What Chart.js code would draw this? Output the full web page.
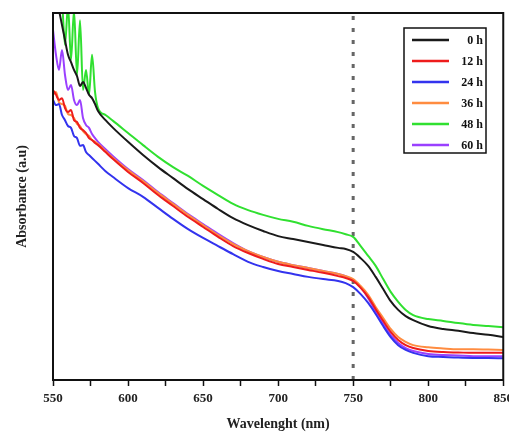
<!DOCTYPE html>
<html>
<head>
<meta charset="utf-8">
<script src="https://cdn.jsdelivr.net/npm/chart.js@4/dist/chart.umd.min.js"></script>
<style>
  html, body { margin: 0; padding: 0; background: #fff; overflow: hidden; }
  #wrap { width: 518px; height: 433px; position: relative; }
</style>
</head>
<body>
<div id="wrap"><canvas id="uvChart"></canvas></div>
<script>
// Longitudes de onda (nm)
const wavelengths = [550, 552, 554, 556, 558, 560, 562, 564, 566, 568, 570, 572, 574, 576, 578, 580, 585, 590,
  600, 610, 620, 630, 640, 650, 660, 670, 680, 690, 700, 710, 720, 730, 740, 745, 750, 755, 760, 765, 770,
  775, 780, 785, 790, 800, 810, 820, 830, 840, 850];

// Absorbancia (u.a.)
const abs0h = [109, 105, 100.8, 96.7, 92.6, 88.6, 86.6, 84.5, 82.8, 80.1, 81.2, 79.6, 77.7, 76.8, 75.2, 73.3, 70.8, 68.7,
  64.9, 61.3, 58.0, 55.0, 52.0, 49.3, 46.6, 44.1, 42.2, 40.6, 39.2, 38.4, 37.6, 36.8, 36.0, 35.7, 34.9, 33.2, 31.1, 28.1, 24.8,
  21.5, 19.1, 17.4, 16.3, 14.7, 13.9, 13.4, 12.8, 12.3, 11.7];
const abs12h = [79.0, 77.7, 76.3, 76.8, 74.1, 73.0, 73.6, 70.8, 70.3, 68.7, 68.1, 67.3, 65.9, 65.4, 64.6, 64.0, 62.1, 60.2,
  56.7, 53.7, 50.4, 47.4, 44.4, 41.7, 39.0, 36.5, 34.6, 33.0, 31.6, 30.8, 30.0, 29.2, 28.3, 27.8, 27.0, 25.1, 22.6, 19.3, 16.1,
  13.1, 10.9, 9.5, 8.7, 7.9, 7.6, 7.5, 7.4, 7.4, 7.4];
const abs24h = [76.3, 74.9, 75.2, 72.2, 70.8, 69.2, 68.7, 66.5, 65.9, 63.8, 64.0, 62.1, 61.3, 60.5, 59.7, 58.9, 56.9, 55.3,
  52.3, 49.9, 46.9, 43.9, 41.1, 38.7, 36.5, 34.3, 32.2, 30.8, 29.7, 28.9, 28.1, 27.5, 27.0, 26.4, 25.3, 23.4, 21.0, 18.0, 14.7,
  11.7, 9.5, 8.2, 7.4, 6.5, 6.3, 6.1, 6.0, 6.0, 5.9];
const abs36h = [77.7, 78.5, 75.7, 75.2, 74.7, 72.5, 72.2, 71.4, 69.8, 69.2, 67.8, 67.0, 66.5, 65.4, 64.9, 64.3, 62.4, 60.5,
  57.2, 54.2, 51.0, 48.0, 45.0, 42.2, 39.5, 37.1, 35.1, 33.5, 32.2, 31.3, 30.5, 29.7, 28.9, 28.3, 27.5, 25.6, 23.2, 19.9, 16.9,
  13.9, 11.7, 10.4, 9.5, 8.9, 8.6, 8.4, 8.4, 8.3, 8.2];
const abs48h = [120, 114, 109, 103.5, 91.3, 102, 87.2, 100.8, 83.1, 98, 79, 84.5, 77.7, 88.6, 78.5, 74.1, 72.2, 70.6,
  67.3, 64.0, 60.8, 58.0, 55.6, 52.9, 50.4, 48.0, 46.3, 45.0, 43.9, 43.1, 42.0, 41.1, 40.3, 39.7, 39.0, 36.5, 33.8, 31.1, 27.5,
  24.0, 21.3, 19.1, 17.7, 16.6, 16.1, 15.5, 15.0, 14.7, 14.4];
const abs60h = [95.4, 88.6, 84.5, 89.9, 83.1, 79.0, 80.4, 76.3, 74.9, 76.3, 71.4, 69.5, 68.7, 67.0, 65.9, 64.9, 62.9, 61.0,
  57.5, 54.5, 51.2, 48.2, 45.2, 42.5, 39.8, 37.3, 35.1, 33.5, 32.2, 31.3, 30.5, 29.7, 28.9, 28.3, 27.2, 25.3, 22.3, 18.8, 15.3,
  12.3, 10.1, 8.7, 7.9, 7.1, 6.8, 6.7, 6.5, 6.5, 6.5];

const seriesLabels = ['0 h', '12 h', '24 h', '36 h', '48 h', '60 h'];
const seriesValues = [abs0h, abs12h, abs24h, abs36h, abs48h, abs60h];
const seriesColors = ['#1a1a1a', '#ee1c1c', '#3333ee', '#ff8c40', '#30e030', '#9a40ff'];

const xTicks = [550, 600, 650, 700, 750, 800, 850];
const markerWavelength = 750;

const serifFamily = "'Liberation Serif', 'Times New Roman', serif";

// Marco, linea punteada y leyenda dentro del grafico
const decorPlugin = {
  id: 'decor',
  beforeDatasetsDraw(chart) {
    const { ctx, chartArea, scales } = chart;
    const x = scales.x.getPixelForValue(markerWavelength);
    ctx.save();
    ctx.strokeStyle = '#666';
    ctx.lineWidth = 3;
    ctx.setLineDash([4, 8]);
    ctx.beginPath();
    ctx.moveTo(x, chartArea.top + 3);
    ctx.lineTo(x, chartArea.bottom);
    ctx.stroke();
    ctx.restore();
  },
  afterDraw(chart) {
    const { ctx, chartArea } = chart;
    ctx.save();
    ctx.strokeStyle = '#111';
    ctx.lineWidth = 2;
    ctx.strokeRect(chartArea.left, chartArea.top, chartArea.right - chartArea.left, chartArea.bottom - chartArea.top);

    // leyenda
    const bx = 404, by = 28, bw = 82, bh = 125;
    ctx.fillStyle = '#fff';
    ctx.fillRect(bx, by, bw, bh);
    ctx.lineWidth = 1.5;
    ctx.strokeRect(bx, by, bw, bh);
    ctx.font = "bold 12px " + serifFamily;
    ctx.textAlign = 'right';
    ctx.textBaseline = 'middle';
    chart.data.datasets.forEach((ds, i) => {
      const y = 40 + i * 21;
      ctx.strokeStyle = ds.borderColor;
      ctx.lineWidth = 2.5;
      ctx.beginPath();
      ctx.moveTo(412, y);
      ctx.lineTo(449, y);
      ctx.stroke();
      ctx.fillStyle = '#111';
      ctx.fillText(ds.label, 483, y + 1);
    });
    ctx.restore();
  }
};

const datasets = seriesLabels.map((label, i) => ({
  label: label,
  data: wavelengths.map((w, j) => ({ x: w, y: seriesValues[i][j] })),
  borderColor: seriesColors[i],
  borderWidth: 2,
  pointRadius: 0,
  cubicInterpolationMode: 'monotone',
  fill: false
}));

new Chart(document.getElementById('uvChart'), {
  type: 'line',
  data: { datasets: datasets },
  options: {
    responsive: true,
    maintainAspectRatio: false,
    animation: false,
    layout: { padding: { top: 13, right: 12, bottom: 0, left: 0 } },
    plugins: {
      legend: { display: false },
      tooltip: { enabled: false }
    },
    scales: {
      x: {
        type: 'linear',
        min: 550,
        max: 850,
        afterFit(scale) { scale.height = 53; },
        afterBuildTicks(scale) {
          // ticks menores cada 25 nm
          const t = [];
          for (let k = 0; k < xTicks.length; k++) {
            t.push({ value: xTicks[k] });
            if (k < xTicks.length - 1) t.push({ value: (xTicks[k] + xTicks[k + 1]) / 2 });
          }
          scale.ticks = t;
        },
        ticks: {
          color: '#222',
          font: { family: serifFamily, weight: 'bold', size: 13 },
          padding: 5,
          maxRotation: 0,
          autoSkip: false,
          callback: (v) => (xTicks.includes(v) ? String(v) : '')
        },
        grid: { drawOnChartArea: false, drawTicks: true, tickLength: 6, tickColor: '#111', tickWidth: 1.5 },
        border: { display: true, color: '#111', width: 2 },
        title: { display: true, text: 'Wavelenght (nm)', color: '#222',
          font: { family: serifFamily, weight: 'bold', size: 14 }, padding: { top: 0, bottom: 0 } }
      },
      y: {
        type: 'linear',
        min: 0,
        max: 100,
        afterFit(scale) { scale.width = 53; },
        ticks: { display: false },
        grid: { display: false },
        border: { display: true, color: '#111', width: 2 },
        title: { display: true, text: 'Absorbance (a.u)', color: '#222',
          font: { family: serifFamily, weight: 'bold', size: 14 }, padding: { top: 14, bottom: 0 } }
      }
    }
  },
  plugins: [decorPlugin]
});
</script>
</body>
</html>
